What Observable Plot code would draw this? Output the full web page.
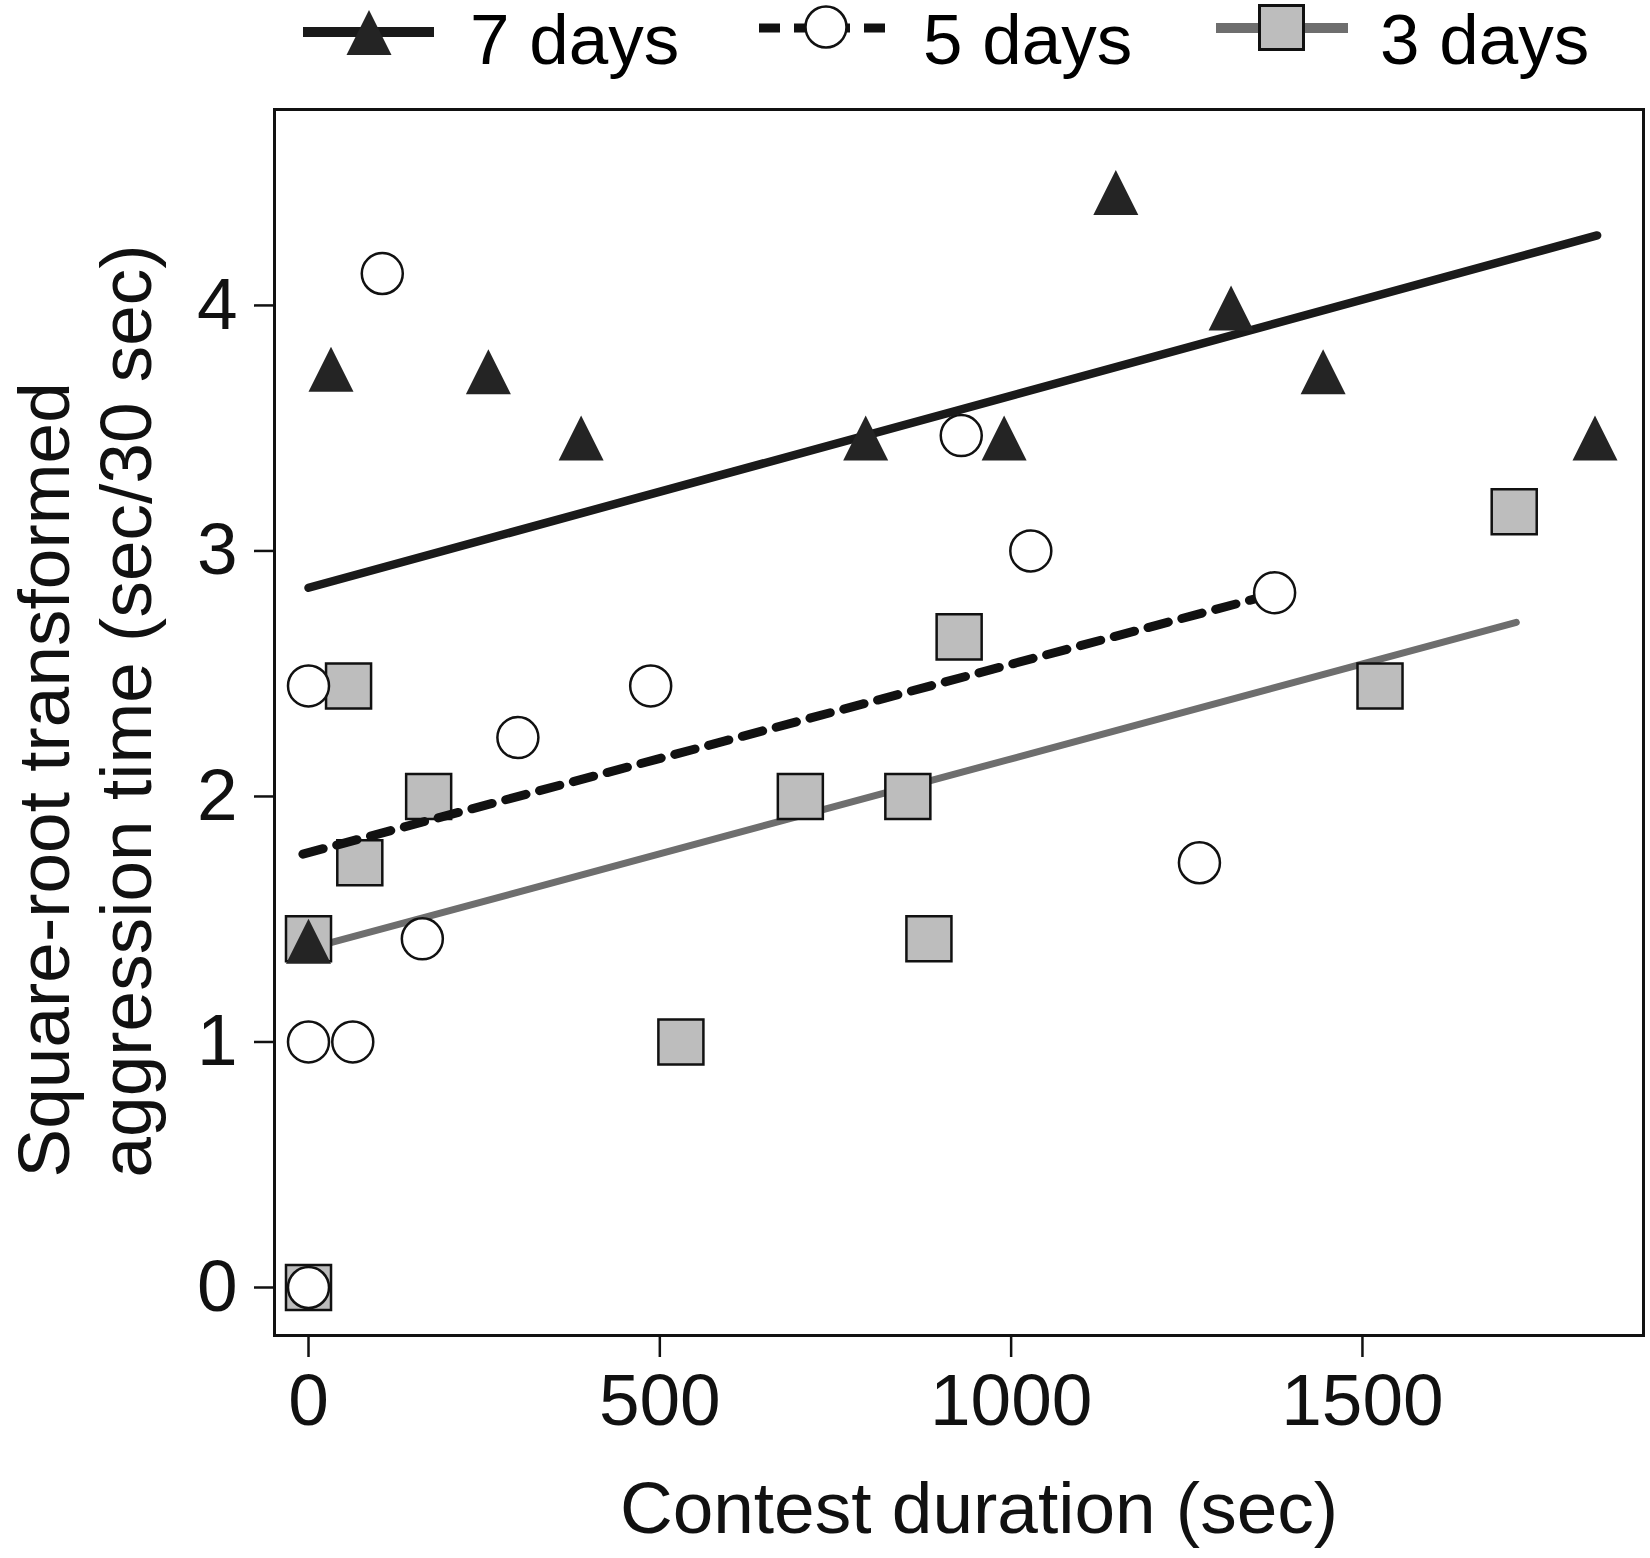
<!DOCTYPE html>
<html>
<head>
<meta charset="utf-8">
<script src="https://cdn.jsdelivr.net/npm/d3@7"></script>
<script src="https://cdn.jsdelivr.net/npm/@observablehq/plot@0.6"></script>
<style>
  html, body { margin: 0; padding: 0; background: #fff; }
  body { width: 1650px; font-family: "Liberation Sans", Arial, Helvetica, sans-serif; }
  #legend, #chart { display: block; }
</style>
</head>
<body>
<div id="legend"></div>
<div id="chart"></div>
<script>
// ---- data ----
const seriesNames = ["7 days", "5 days", "3 days"];

const x7 = [0, 32, 256, 388, 793, 990, 1149, 1313, 1444, 1831];
const y7 = [1.41, 3.74, 3.73, 3.46, 3.46, 3.46, 4.46, 3.99, 3.73, 3.46];

const x5 = [0, 0, 63, 0, 105, 162, 298, 487, 929, 1028, 1268, 1375];
const y5 = [0, 1, 1, 2.45, 4.13, 1.42, 2.24, 2.45, 3.47, 3.0, 1.73, 2.83];

const x3 = [0, 0, 57, 73, 171, 530, 700, 853, 883, 926, 1525, 1716];
const y3 = [0, 1.42, 2.45, 1.73, 2.0, 1.0, 2.0, 2.0, 1.42, 2.65, 2.45, 3.16];

// fitted regression lines (end points)
const fitX7 = [0, 1834], fitY7 = [2.85, 4.285];
const fitX5 = [-8, 1376], fitY5 = [1.765, 2.827];
const fitX3 = [0, 1719], fitY3 = [1.38, 2.709];

const xTicks = [0, 500, 1000, 1500];
const yTicks = [0, 1, 2, 3, 4];
const xTitle = "Contest duration (sec)";
const yTitle1 = "Square-root transformed";
const yTitle2 = "aggression time (sec/30 sec)";

// ---- helpers ----
const pts = (xs, ys) => xs.map((x, i) => ({x, y: ys[i]}));
const FONT = '"Liberation Sans", Arial, Helvetica, sans-serif';
const FS = 73;
const LFS = 71;
const squareFill = "#bdbdbd";
const grayLine = "#6e6e6e";
const triFill = "#242424";

// triangle with equal width and height, centred on its bounding box
const tri = {
  draw(context, size) {
    const r = Math.sqrt(size / Math.PI);
    context.moveTo(0, -r);
    context.lineTo(r, r);
    context.lineTo(-r, r);
    context.closePath();
  }
};

// ---- legend (above the chart) ----
{
  const svg = d3.select("#legend").append("svg")
    .attr("width", 1650).attr("height", 100)
    .style("display", "block")
    .style("font-family", FONT);
  // 7 days
  svg.append("line").attr("x1", 303).attr("x2", 434).attr("y1", 32).attr("y2", 32)
    .attr("stroke", "#1a1a1a").attr("stroke-width", 10);
  svg.append("path").attr("d", "M369,10L391.5,55L346.5,55Z").attr("fill", triFill);
  svg.append("text").attr("x", 470).attr("y", 64).attr("font-size", LFS).text(seriesNames[0]);
  // 5 days
  svg.append("line").attr("x1", 759).attr("x2", 887).attr("y1", 28).attr("y2", 28)
    .attr("stroke", "#111").attr("stroke-width", 9).attr("stroke-dasharray", "21,14");
  svg.append("circle").attr("cx", 826).attr("cy", 27).attr("r", 20.5)
    .attr("fill", "#fff").attr("stroke", "#111").attr("stroke-width", 2.5);
  svg.append("text").attr("x", 923).attr("y", 64).attr("font-size", LFS).text(seriesNames[1]);
  // 3 days
  svg.append("line").attr("x1", 1216).attr("x2", 1348).attr("y1", 28).attr("y2", 28)
    .attr("stroke", grayLine).attr("stroke-width", 10);
  svg.append("rect").attr("x", 1259.5).attr("y", 5.5).attr("width", 44).attr("height", 44)
    .attr("fill", squareFill).attr("stroke", "#111").attr("stroke-width", 3);
  svg.append("text").attr("x", 1380).attr("y", 64).attr("font-size", LFS).text(seriesNames[2]);
}

// ---- chart ----
const chart = Plot.plot({
  width: 1650,
  height: 1458,
  marginTop: 9,
  marginBottom: 223,
  marginLeft: 274,
  marginRight: 7,
  style: {fontFamily: FONT, fontSize: FS + "px", color: "#111", background: "#fff"},
  x: {domain: [-48.4, 1900]},
  y: {domain: [-0.1955, 4.798]},
  marks: [
    Plot.frame({stroke: "#111", strokeWidth: 3}),
    Plot.axisX({ticks: xTicks, tickSize: 22, tickPadding: 16, strokeWidth: 2.5, fontSize: FS, tickFormat: d => String(d), label: null}),
    Plot.axisY({ticks: yTicks, tickSize: 20, tickPadding: 17, strokeWidth: 2.5, fontSize: FS, tickFormat: d => String(d), label: null}),
    // 3 days
    Plot.line(pts(fitX3, fitY3), {x: "x", y: "y", stroke: grayLine, strokeWidth: 7}),
    Plot.dot(pts(x3, y3), {x: "x", y: "y", symbol: "square", r: 25.4, fill: squareFill, stroke: "#111", strokeWidth: 2.5}),
    // 5 days
    Plot.line(pts(fitX5, fitY5), {x: "x", y: "y", stroke: "#111", strokeWidth: 9, strokeDasharray: "21,14"}),
    Plot.dot(pts(x5, y5), {x: "x", y: "y", symbol: "circle", r: 20.5, fill: "#fff", stroke: "#111", strokeWidth: 2.5}),
    // 7 days
    Plot.line(pts(fitX7, fitY7), {x: "x", y: "y", stroke: "#1a1a1a", strokeWidth: 8.5}),
    Plot.dot(pts(x7, y7), {x: "x", y: "y", symbol: tri, r: 22.5, fill: triFill, stroke: "none"}),
    // axis titles
    Plot.text([xTitle], {text: d => d, frameAnchor: "bottom", dx: 20, dy: 197, lineAnchor: "bottom", textAnchor: "middle", fontSize: FS, fill: "#111"}),
    Plot.text([yTitle1], {text: d => d, frameAnchor: "bottom-left", rotate: -90, textAnchor: "start", lineAnchor: "bottom", dx: -206, dy: -158, fontSize: FS, fill: "#111"}),
    Plot.text([yTitle2], {text: d => d, frameAnchor: "bottom-left", rotate: -90, textAnchor: "start", lineAnchor: "bottom", dx: -124, dy: -158, fontSize: FS, fill: "#111"})
  ]
});
document.getElementById("chart").appendChild(chart);
</script>
</body>
</html>
